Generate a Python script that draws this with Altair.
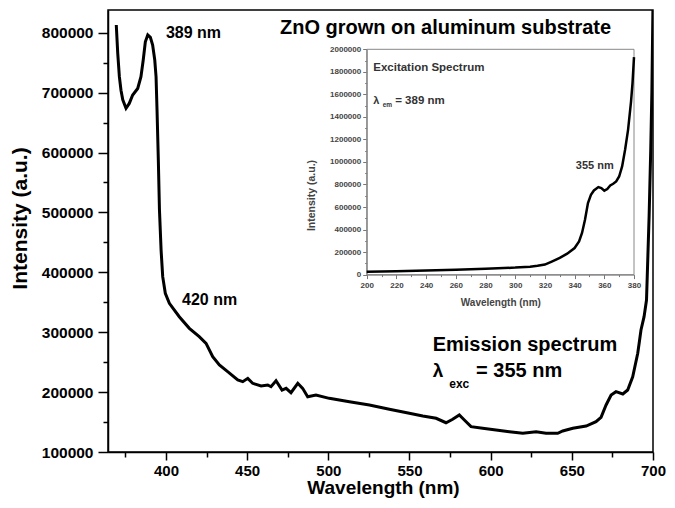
import altair as alt
import pandas as pd

FONT = "Liberation Sans"

# ---------------- data ----------------
# Emission spectrum (main panel)
em_wavelength = [369.4, 370.3, 371.3, 372.3, 373.4, 375.4, 377.4, 379.5, 382.6, 384.6,
                 386.0, 387.3, 388.8, 390.4, 391.8, 393.1, 393.9, 394.5, 395.3, 396.0,
                 397.0, 398.0, 399.6, 402.1, 408.2, 414.4, 420.5, 424.7, 428.8, 432.9,
                 438.0, 444.2, 447.3, 450.4, 453.4, 458.6, 462.7, 464.7, 467.8, 471.5,
                 474.0, 477.0, 481.2, 484.2, 487.3, 492.4, 500.6, 513.0, 525.3, 537.6,
                 549.9, 558.2, 566.4, 572.5, 576.6, 580.7, 583.8, 587.9, 595.1, 603.3,
                 611.5, 619.8, 628.0, 634.1, 641.3, 644.4, 650.6, 658.8, 664.9, 668.0,
                 671.1, 674.2, 677.2, 681.4, 684.4, 687.5, 690.6, 691.6, 692.6, 694.5,
                 696.0, 697.6, 698.6, 699.3, 700.0]
em_intensity = [813000, 765700, 726600, 704000, 688000, 674000, 682000, 696000, 707000, 726600,
                754500, 785000, 796300, 792400, 779500, 754500, 726600, 671000, 587500, 504000,
                437000, 392700, 365000, 348300, 325900, 306500, 292500, 281500, 259100, 245300,
                234100, 220200, 217400, 223000, 214700, 210200, 211900, 209000, 219000, 203500,
                206300, 199000, 214700, 206300, 192300, 195200, 189600, 184000, 178500, 171300,
                164600, 160100, 156300, 148900, 154600, 161800, 153400, 142300, 139600, 136700,
                133900, 131200, 133900, 131200, 131200, 135100, 139600, 143400, 150600, 158000,
                178500, 195200, 200700, 196800, 203500, 225700, 264800, 284000, 303700, 326000,
                353800, 493000, 604000, 700000, 850000]

# Excitation spectrum (inset)
ex_wavelength = [200, 220, 240, 260, 280, 300, 310, 315, 320, 325, 330, 335, 340, 343, 345,
                 347, 349, 351, 353, 356, 358, 360, 362, 364, 366, 368, 370, 372, 374, 376,
                 378, 379, 380]
ex_intensity = [25000, 30000, 37000, 44000, 52000, 62000, 70000, 78000, 89000, 118000,
                148000, 186000, 236000, 295000, 370000, 487000, 635000, 709000, 747000, 777000,
                768000, 745000, 760000, 792000, 806000, 827000, 871000, 960000, 1108000, 1285000,
                1536000, 1700000, 1930000]

# axis tick values
main_x_ticks = [400, 450, 500, 550, 600, 650, 700]
main_x_minor = [375, 425, 475, 525, 575, 625, 675]
main_y_ticks = [100000, 200000, 300000, 400000, 500000, 600000, 700000, 800000]
main_y_minor = [150000, 250000, 350000, 450000, 550000, 650000, 750000]
main_x_domain = [364.3, 700]
main_y_domain = [100000, 838000]

inset_x_ticks = [200, 220, 240, 260, 280, 300, 320, 340, 360, 380]
inset_x_minor = [210, 230, 250, 270, 290, 310, 330, 350, 370]
inset_y_ticks = [0, 200000, 400000, 600000, 800000, 1000000, 1200000, 1400000,
                 1600000, 1800000, 2000000]
inset_y_minor = [100000, 300000, 500000, 700000, 900000, 1100000, 1300000, 1500000,
                 1700000, 1900000]

# ---------------- layout ----------------
W, H = 545, 442
INSET_X_RANGE = [258.7, 526]
INSET_Y_RANGE = [264.6, 39.3]

em_df = pd.DataFrame({"wl": em_wavelength, "inten": em_intensity})
ex_df = pd.DataFrame({"wl": ex_wavelength, "inten": ex_intensity})

xs_main = alt.Scale(domain=main_x_domain, nice=False, zero=False)
ys_main = alt.Scale(domain=main_y_domain, nice=False, zero=False)
xs_in = alt.Scale(domain=[inset_x_ticks[0], inset_x_ticks[-1]], range=INSET_X_RANGE, nice=False, zero=False)
ys_in = alt.Scale(domain=[inset_y_ticks[0], inset_y_ticks[-1]], range=INSET_Y_RANGE, nice=False, zero=False)

main_common = dict(labelFont=FONT, labelFontWeight="bold", labelColor="black",
                   labelFlush=False, labelOverlap=False,
                   tickColor="black", tickWidth=1.5, domainColor="black", domainWidth=1.5,
                   grid=False, format="d")

main_x_axis = alt.Axis(orient="bottom", values=main_x_ticks, tickSize=8, labelPadding=3,
                       labelFontSize=15,
                       title="Wavelength (nm)", titleFont=FONT, titleFontSize=19,
                       titleFontWeight="bold", titleColor="black", titleX=275, titleY=41,
                       titleBaseline="alphabetic", titleAlign="center", **main_common)
main_y_axis = alt.Axis(orient="left", values=main_y_ticks, tickSize=10, labelPadding=5,
                       labelFontSize=15.5,
                       title="Intensity (a.u.)", titleFont=FONT, titleFontSize=21,
                       titleFontWeight="bold", titleColor="black", titleX=-82, titleY=208,
                       titleBaseline="alphabetic", titleAlign="center", **main_common)

minor_common = dict(labels=False, domain=False, grid=False, title=None,
                    tickColor="black", tickWidth=1.5, tickSize=5)

main_line = alt.Chart(em_df).mark_line(color="black", strokeWidth=3, clip=True).encode(
    x=alt.X("wl:Q", scale=xs_main, axis=main_x_axis),
    y=alt.Y("inten:Q", scale=ys_main, axis=main_y_axis),
)
main_minor = alt.Chart(em_df).mark_line(opacity=0).encode(
    x=alt.X("wl:Q", scale=xs_main, axis=alt.Axis(orient="bottom", values=main_x_minor, **minor_common)),
    y=alt.Y("inten:Q", scale=ys_main, axis=alt.Axis(orient="left", values=main_y_minor, **minor_common)),
)


def note(x, y, text, size, xs, ys, align="left", color="black", weight="bold"):
    df = pd.DataFrame({"x": [x], "y": [y], "t": [text]})
    return alt.Chart(df).mark_text(font=FONT, fontSize=size, fontWeight=weight, color=color,
                                   align=align, baseline="alphabetic").encode(
        x=alt.X("x:Q", scale=xs, axis=None),
        y=alt.Y("y:Q", scale=ys, axis=None),
        text="t:N",
    )


main_notes = [
    note(400.0, 790750, "389 nm", 16, xs_main, ys_main),
    note(409.9, 345440, "420 nm", 16, xs_main, ys_main),
    note(674.2, 797900, "ZnO grown on aluminum substrate", 20, xs_main, ys_main, align="right"),
    note(564.3, 268640, "Emission spectrum", 20, xs_main, ys_main),
    note(564.3, 225220, "λ", 19, xs_main, ys_main),
    note(574.5, 206850, "exc", 12, xs_main, ys_main),
    note(591.0, 225220, "= 355 nm", 20, xs_main, ys_main),
]

main = alt.layer(main_line, main_minor, *main_notes).resolve_axis(x="independent", y="independent")

# ---------------- inset ----------------
GREY = "#777777"
TXT = "#333333"
in_common = dict(labelFont=FONT, labelFontSize=8, labelFontWeight="bold", labelColor="#444444",
                 labelFlush=False, labelOverlap=False, tickColor=GREY, tickWidth=1,
                 domainColor=GREY, domainWidth=1, grid=False, format="d")

in_x_axis = alt.Axis(orient="bottom", offset=-(H - INSET_Y_RANGE[0]), values=inset_x_ticks,
                     tickSize=4, labelPadding=3,
                     title="Wavelength (nm)", titleFont=FONT, titleFontSize=10, titleFontWeight="bold",
                     titleColor="#444444", titleY=31, titleBaseline="alphabetic", titleAlign="center",
                     **in_common)
in_y_axis = alt.Axis(orient="left", offset=-INSET_X_RANGE[0], values=inset_y_ticks,
                     tickSize=4, labelPadding=2,
                     title="Intensity (a.u.)", titleFont=FONT, titleFontSize=10.5, titleFontWeight="bold",
                     titleColor="#444444", titleX=-52, titleY=185, titleBaseline="alphabetic",
                     titleAlign="center", **in_common)
in_minor_common = dict(labels=False, domain=False, grid=False, title=None,
                       tickColor=GREY, tickWidth=1, tickSize=2)

frame_df = pd.DataFrame({"x1": [inset_x_ticks[0]], "x2": [inset_x_ticks[-1]],
                         "y1": [inset_y_ticks[0]], "y2": [inset_y_ticks[-1]]})
in_frame = alt.Chart(frame_df).mark_rect(fill="white", fillOpacity=0, stroke="#888888", strokeWidth=1).encode(
    x=alt.X("x1:Q", scale=xs_in, axis=None), x2="x2:Q",
    y=alt.Y("y1:Q", scale=ys_in, axis=None), y2="y2:Q",
)
in_line = alt.Chart(ex_df).mark_line(color="black", strokeWidth=2.5).encode(
    x=alt.X("wl:Q", scale=xs_in, axis=in_x_axis),
    y=alt.Y("inten:Q", scale=ys_in, axis=in_y_axis),
)
in_minor = alt.Chart(ex_df).mark_line(opacity=0).encode(
    x=alt.X("wl:Q", scale=xs_in, axis=alt.Axis(orient="bottom", offset=-(H - INSET_Y_RANGE[0]),
                                              values=inset_x_minor, **in_minor_common)),
    y=alt.Y("inten:Q", scale=ys_in, axis=alt.Axis(orient="left", offset=-INSET_X_RANGE[0],
                                                 values=inset_y_minor, **in_minor_common)),
)
in_notes = [
    note(204.4, 1810000, "Excitation Spectrum", 11.5, xs_in, ys_in, color=TXT),
    note(204.4, 1514000, "λ", 11, xs_in, ys_in, color=TXT),
    note(210.8, 1485000, "em", 6.5, xs_in, ys_in, color=TXT),
    note(219.2, 1514000, "= 389 nm", 11.5, xs_in, ys_in, color=TXT),
    note(340.8, 935000, "355 nm", 11, xs_in, ys_in, color=TXT),
]

inset = alt.layer(in_frame, in_line, in_minor, *in_notes).resolve_axis(x="independent", y="independent")

chart = alt.layer(main, inset).resolve_scale(x="independent", y="independent").properties(
    width=W, height=H,
    autosize=alt.AutoSizeParams(type="none"),
    padding={"left": 100, "top": 2, "right": 14, "bottom": 46},
    background="white",
).configure_view(stroke="black", strokeWidth=1.5)

chart.save("out.html", embed_options={"renderer": "svg", "actions": False})
